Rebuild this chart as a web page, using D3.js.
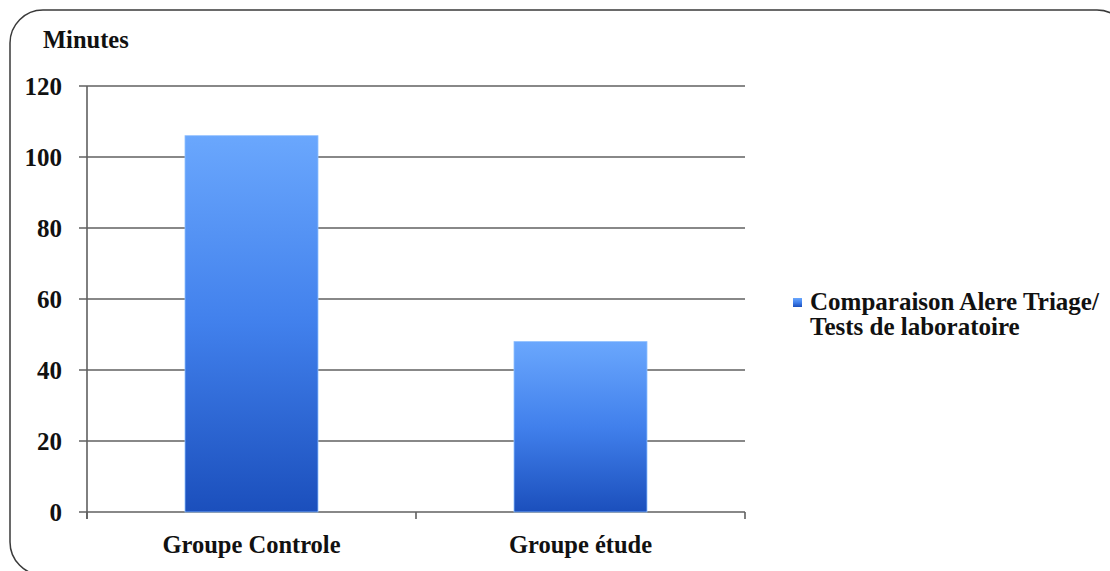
<!DOCTYPE html>
<html><head><meta charset="utf-8">
<script src="https://cdn.jsdelivr.net/npm/d3@7"></script>
<style>
html,body{margin:0;padding:0;background:#fff;}
svg text{font-family:"Liberation Serif","Times New Roman",serif;font-weight:bold;fill:#111;}
</style></head>
<body>
<svg id="c" width="1110" height="571"></svg>
<script>
(function(){
const categories = ["Groupe Controle", "Groupe étude"];
const values = [106, 48];
const yTicks = [0, 20, 40, 60, 80, 100, 120];
const seriesName = ["Comparaison Alere Triage/", "Tests de laboratoire"];
const yTitle = "Minutes";

const svg = d3.select("#c");
const defs = svg.append("defs");
const grad = defs.append("linearGradient").attr("id","barGrad")
  .attr("x1","0").attr("y1","0").attr("x2","0").attr("y2","1");
grad.append("stop").attr("offset","0%").attr("stop-color","#6aa7fd");
grad.append("stop").attr("offset","50%").attr("stop-color","#4180ec");
grad.append("stop").attr("offset","100%").attr("stop-color","#1b4fbc");

// frame
svg.append("rect").attr("x",10).attr("y",10).attr("width",1120).attr("height",565)
  .attr("rx",33).attr("ry",33).attr("fill","none").attr("stroke","#3a3a3a").attr("stroke-width",1.5);

const mLeft = 87, mRight = 745, mTop = 86, mBottom = 512;
const x = d3.scaleBand().domain(categories).range([mLeft, mRight]).paddingInner(0).paddingOuter(0);
const y = d3.scaleLinear().domain([0, 120]).range([mBottom, mTop]);

// gridlines
svg.append("g").selectAll("line").data(yTicks).join("line")
  .attr("x1", mLeft - 8).attr("x2", mRight)
  .attr("y1", d => y(d)).attr("y2", d => y(d))
  .attr("stroke", "#606060").attr("stroke-width", 1.6);

// y axis line
svg.append("line").attr("x1",mLeft).attr("x2",mLeft).attr("y1",mTop).attr("y2",mBottom+7)
  .attr("stroke","#606060").attr("stroke-width",1.6);

// category ticks
const catTicks = [mLeft].concat(categories.map(c => x(c) + x.bandwidth()));
svg.append("g").selectAll("line").data(catTicks).join("line")
  .attr("x1", d => d).attr("x2", d => d).attr("y1", mBottom).attr("y2", mBottom + 7)
  .attr("stroke", "#606060").attr("stroke-width", 1.6);

// y labels
svg.append("g").selectAll("text").data(yTicks).join("text")
  .attr("x", 62).attr("y", d => y(d) + 9)
  .attr("text-anchor","end").attr("font-size", 25).text(d => d);

// bars
const barW = 133;
svg.append("g").selectAll("rect").data(values).join("rect")
  .attr("x", (d,i) => x(categories[i]) + x.bandwidth()/2 - barW/2)
  .attr("width", barW)
  .attr("y", d => y(d)).attr("height", d => y(0) - y(d))
  .attr("fill", "url(#barGrad)")
  .attr("stroke", "#8fc0ff").attr("stroke-width", 0.8);

// category labels
svg.append("g").selectAll("text").data(categories).join("text")
  .attr("x", d => x(d) + x.bandwidth()/2).attr("y", 553)
  .attr("text-anchor","middle").attr("font-size", 24.5).text(d => d);

// y title
svg.append("text").attr("x", 43).attr("y", 48).attr("font-size", 24.5).text(yTitle);

// legend
svg.append("rect").attr("x", 793).attr("y", 298).attr("width", 9).attr("height", 9)
  .attr("fill","url(#barGrad)");
svg.append("g").selectAll("text").data(seriesName).join("text")
  .attr("x", 810).attr("y", (d,i) => 310 + i*25)
  .attr("font-size", 25).text(d => d);
})();
</script>
</body></html>
